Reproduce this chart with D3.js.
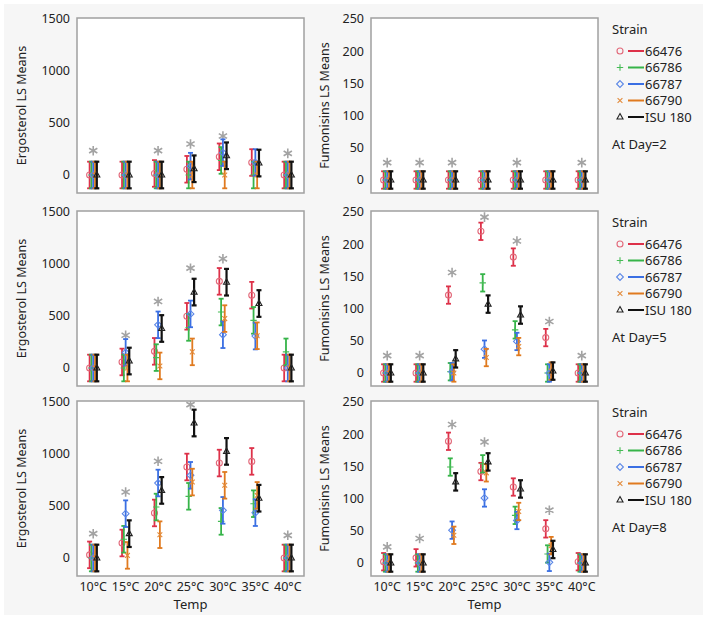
<!DOCTYPE html>
<html>
<head>
<meta charset="utf-8">
<script src="https://cdnjs.cloudflare.com/ajax/libs/d3/7.8.5/d3.min.js"></script>
<style>
body { margin: 0; background: #fff; }
svg { display: block; font-family: "Segoe UI", "Noto Sans", sans-serif; }
</style>
</head>
<body>
<svg id="canvas" width="708" height="620"></svg>
<script>
// categories
var temps = ["10°C", "15°C", "20°C", "25°C", "30°C", "35°C", "40°C"];
var strains = ["66476", "66786", "66787", "66790", "ISU 180"];
var days = [2, 5, 8];

// LS means, one row per strain, one column per temp
var ergoDay2 = [
  [0, 0, 15, 55, 175, 120, 0],
  [0, 0, 0, 0, 140, 0, 0],
  [0, 0, 0, 85, 215, 120, 0],
  [0, 0, 0, 0, 0, 0, 0],
  [0, 0, 0, 60, 185, 115, 0]
];
var ergoDay5 = [
  [0, 58, 160, 497, 833, 700, 0],
  [0, 0, 100, 390, 538, 458, 155],
  [0, 150, 415, 520, 320, 307, 0],
  [0, 0, 20, 155, 475, 310, 0],
  [0, 67, 380, 730, 825, 620, 0]
];
var ergoDay8 = [
  [30, 144, 433, 875, 913, 929, 0],
  [0, 180, 490, 593, 352, 522, 0],
  [0, 426, 721, 795, 458, 436, 0],
  [0, 25, 224, 730, 699, 602, 0],
  [0, 234, 650, 1298, 1025, 575, 0]
];
var fumDay2 = [
  [0, 0, 0, 0, 0, 0, 0],
  [0, 0, 0, 0, 0, 0, 0],
  [0, 0, 0, 0, 0, 0, 0],
  [0, 0, 0, 0, 0, 0, 0],
  [0, 0, 0, 0, 0, 0, 0]
];
var fumDay5 = [
  [0, 0, 121, 220, 180, 55, 0],
  [0, 0, 2, 140, 67, 0, 0],
  [0, 0, 2, 37, 49, 0, 0],
  [0, 0, 0, 24, 41, 3, 0],
  [0, 0, 22, 107, 90, 3, 0]
];
var fumDay8 = [
  [2, 8, 189, 142, 118, 53, 2],
  [0, 0, 149, 154, 74, 14, 0],
  [0, 0, 51, 101, 66, 1, 0],
  [0, 0, 43, 140, 80, 27, 0],
  [0, 0, 126, 157, 115, 21, 0]
];
// error bar half widths
var ergoErr = 128;
var fumErr = 13.5;

// significance stars (value where the * sits, null = none)
var ergoStars2 = [234, null, 234, 298, 375, null, 208];
var ergoStars5 = [null, 315, 640, 960, 1050, null, null];
var ergoStars8 = [234, 635, 930, 1475, null, null, 218];
var fumStars2 = [27, 27, 27, null, 27, null, 27];
var fumStars5 = [27, 27, 156, 242, 205, 80, 27];
var fumStars8 = [25, 38, 215, 188, null, 82, null];

var ergoTicks = [0, 500, 1000, 1500];
var fumTicks = [0, 50, 100, 150, 200, 250];

var lineColors = ["#dd3149", "#36b449", "#3a6fe3", "#e07a1f", "#111111"];
var markColors = ["#e2697a", "#45bb55", "#5a86e6", "#e28a3a", "#222222"];
// open marker shapes: circle, plus, diamond, x, triangle
var markPaths = [
  "M3,0A3,3 0 1,1 -3,0A3,3 0 1,1 3,0Z",
  "M-3.2,0H3.2M0,-3.2V3.2",
  "M0,-3.4L3.4,0L0,3.4L-3.4,0Z",
  "M-2.4,-2.4L2.4,2.4M-2.4,2.4L2.4,-2.4",
  "M0,-3.4L3,2L-3,2Z"
];

var svg = d3.select("#canvas");
svg.append("rect").attr("width", 708).attr("height", 620).attr("fill", "#fff");
svg.append("rect").attr("x", 4).attr("y", 4).attr("width", 699).attr("height", 611).attr("fill", "#f6f6f6");

var rowTops = [18, 211, 401];
var colLefts = [77, 371];
var pw = 227, ph = 175;

var panels = [
  {row: 0, col: 0, data: ergoDay2, stars: ergoStars2, err: ergoErr, max: 1500, zero: 157, ticks: ergoTicks, title: "Ergosterol LS Means"},
  {row: 0, col: 1, data: fumDay2, stars: fumStars2, err: fumErr, max: 250, zero: 162, ticks: fumTicks, title: "Fumonisins LS Means"},
  {row: 1, col: 0, data: ergoDay5, stars: ergoStars5, err: ergoErr, max: 1500, zero: 157, ticks: ergoTicks, title: "Ergosterol LS Means"},
  {row: 1, col: 1, data: fumDay5, stars: fumStars5, err: fumErr, max: 250, zero: 162, ticks: fumTicks, title: "Fumonisins LS Means"},
  {row: 2, col: 0, data: ergoDay8, stars: ergoStars8, err: ergoErr, max: 1500, zero: 157, ticks: ergoTicks, title: "Ergosterol LS Means"},
  {row: 2, col: 1, data: fumDay8, stars: fumStars8, err: fumErr, max: 250, zero: 162, ticks: fumTicks, title: "Fumonisins LS Means"}
];

panels.forEach(function(p) {
  var x0 = colLefts[p.col], y0 = rowTops[p.row];
  var x = d3.scalePoint().domain(temps).range([x0, x0 + pw]).padding(0.5);
  var y = d3.scaleLinear().domain([0, p.max]).range([y0 + p.zero, y0 + 1]);
  var g = svg.append("g");

  g.append("rect").attr("x", x0).attr("y", y0).attr("width", pw).attr("height", ph)
    .attr("fill", "#fff");

  var clipId = "clip" + p.row + p.col;
  svg.append("clipPath").attr("id", clipId).append("rect")
    .attr("x", x0).attr("y", y0).attr("width", pw).attr("height", ph);

  // y axis labels
  g.selectAll(".yt").data(p.ticks).enter().append("text")
    .attr("x", x0 - 7).attr("y", function(d) { return y(d); })
    .attr("dy", "0.35em").attr("text-anchor", "end")
    .attr("font-size", 12.5).attr("fill", "#222")
    .text(function(d) { return d; });

  var tx = p.col == 0 ? x0 - 51 : x0 - 42;
  g.append("text")
    .attr("transform", "translate(" + tx + "," + (y0 + ph / 2) + ") rotate(-90)")
    .attr("text-anchor", "middle").attr("font-size", 12.5).attr("fill", "#222")
    .text(p.title);

  var plot = g.append("g").attr("clip-path", "url(#" + clipId + ")");

  // stars
  plot.selectAll(".star").data(p.stars.map(function(v, i) { return {v: v, t: temps[i]}; })
      .filter(function(d) { return d.v != null; }))
    .enter().append("path")
    .attr("d", d3.symbol().type(d3.symbolAsterisk).size(64)())
    .attr("transform", function(d) { return "translate(" + x(d.t) + "," + y(d.v) + ")"; })
    .attr("fill", "none").attr("stroke", "#a3a3a3").attr("stroke-width", 1.6);

  p.data.forEach(function(vals, j) {
    var off = (j - 2) * 1.8;
    var sg = plot.append("g");
    vals.forEach(function(v, i) {
      var cx = x(temps[i]) + off;
      var hi = y(v + p.err), lo = y(v - p.err);
      var w = j == 4 ? 2.2 : 1.8;
      sg.append("line").attr("x1", cx).attr("x2", cx).attr("y1", hi).attr("y2", lo)
        .attr("stroke", lineColors[j]).attr("stroke-width", w);
      [hi, lo].forEach(function(yy) {
        sg.append("line").attr("x1", cx - 2.5).attr("x2", cx + 2.5).attr("y1", yy).attr("y2", yy)
          .attr("stroke", lineColors[j]).attr("stroke-width", w);
      });
      sg.append("path").attr("d", markPaths[j])
        .attr("transform", "translate(" + cx + "," + y(v) + ")")
        .attr("fill", "none").attr("stroke", markColors[j]).attr("stroke-width", 1.1);
    });
  });

  g.append("rect").attr("x", x0).attr("y", y0).attr("width", pw).attr("height", ph)
    .attr("fill", "none").attr("stroke", "#a0a0a0").attr("stroke-width", 1.5);

  // x axis only on bottom row
  if (p.row == 2) {
    g.selectAll(".xt").data(temps).enter().append("text")
      .attr("x", function(d) { return x(d); }).attr("y", y0 + ph + 15)
      .attr("text-anchor", "middle").attr("font-size", 12.5).attr("fill", "#222")
      .text(function(d) { return d; });
    g.append("text").attr("x", x0 + pw / 2).attr("y", y0 + ph + 33)
      .attr("text-anchor", "middle").attr("font-size", 13).attr("fill", "#222")
      .text("Temp");
  }
});

// legends
days.forEach(function(day, r) {
  var y0 = rowTops[r];
  var lg = svg.append("g");
  lg.append("text").attr("x", 612).attr("y", y0 + 16).attr("font-size", 13).attr("fill", "#222").text("Strain");
  strains.forEach(function(s, j) {
    var yy = y0 + 33 + j * 16.5;
    lg.append("path").attr("d", markPaths[j])
      .attr("transform", "translate(620," + yy + ")")
      .attr("fill", "none").attr("stroke", markColors[j]).attr("stroke-width", 1.1);
    lg.append("line").attr("x1", 628).attr("x2", 644).attr("y1", yy).attr("y2", yy)
      .attr("stroke", lineColors[j]).attr("stroke-width", 2);
    lg.append("text").attr("x", 645).attr("y", yy).attr("dy", "0.35em")
      .attr("font-size", 13).attr("fill", "#222").text(s);
  });
  lg.append("text").attr("x", 612).attr("y", y0 + 126).attr("dy", "0.35em")
    .attr("font-size", 13).attr("fill", "#222").text("At Day=" + day);
});
</script>
</body>
</html>
